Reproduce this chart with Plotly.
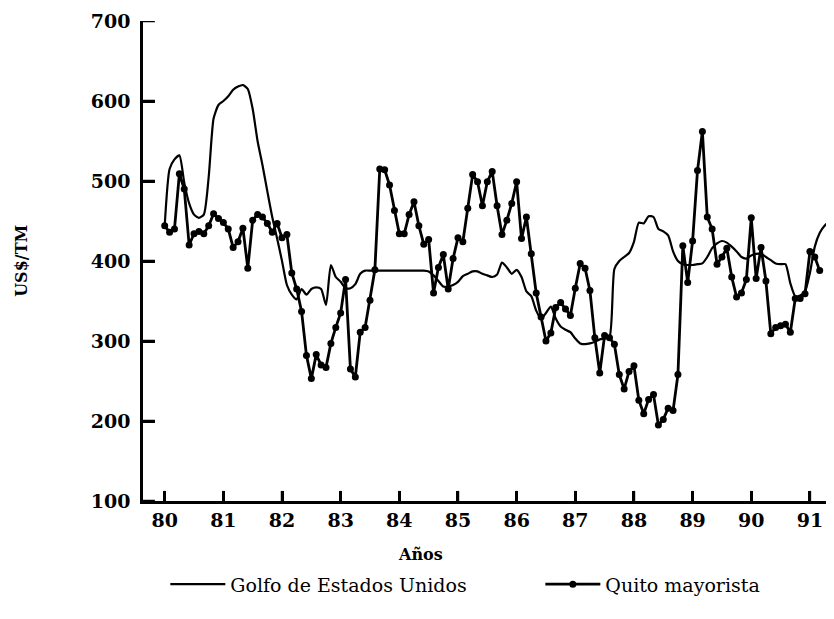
import plotly.graph_objects as go

# ---- data (monthly, starting January 1980) ----
start_year = 80
golfo = [444, 515, 527, 532, 498, 472, 458, 454, 458, 505,
         578, 595, 600, 606, 614, 618, 620, 615, 590, 550,
         520, 487, 455, 428, 400, 370, 358, 352, 365, 358,
         365, 367, 365, 345, 395, 380, 374, 366, 366, 371,
         384, 388, 388, 388, 388, 388, 388, 388, 388, 388,
         388, 388, 388, 388, 387, 382, 375, 368, 368, 370,
         374, 381, 384, 387, 387, 384, 382, 380, 383, 398,
         392, 384, 389, 380, 362, 356, 338, 328, 335, 343,
         328, 318, 314, 311, 303, 297, 296, 297, 299, 302,
         303, 305, 390, 400, 405, 410, 424, 448, 447, 456,
         455, 440, 437, 432, 412, 400, 396, 395, 395, 396,
         397, 405, 416, 422, 425, 423, 418, 412, 405, 403,
         407, 409, 409, 405, 401, 397, 396, 396, 372, 356,
         357, 362, 385, 418, 435, 444, 449, 446, 436]

quito = [444, 436, 440, 509, 490, 420, 434, 437, 434, 444,
         459, 453, 448, 440, 417, 424, 441, 391, 451, 458,
         455, 447, 436, 447, 429, 433, 385, 365, 337, 282,
         253, 283, 270, 267, 297, 317, 335, 377, 265, 255,
         311, 317, 351, 389, 515, 514, 495, 463, 434, 434,
         458, 474, 444, 421, 427, 360, 392, 408, 365, 403,
         429, 424, 466, 508, 499, 469, 499, 512, 469, 433,
         451, 472, 499, 428, 455, 409, 360, 330, 300, 310,
         342, 348, 340, 332, 366, 397, 391, 363, 304, 260,
         307, 304, 296, 258, 240, 262, 269, 226, 209, 227,
         233, 195, 202, 216, 213, 258, 419, 373, 425, 513,
         562, 455, 440, 396, 405, 416, 380, 355, 360, 377,
         454, 378, 417, 375, 309, 317, 319, 321, 311, 353,
         353, 359, 412, 405, 388]

x_ticks = list(range(80, 92))
x_tick_labels = [str(v) for v in x_ticks]
y_ticks = [100, 200, 300, 400, 500, 600, 700]
y_tick_labels = [str(v) for v in y_ticks]

x_golfo = [start_year + i / 12 for i in range(len(golfo))]
x_quito = [start_year + i / 12 for i in range(len(quito))]

FONT = "DejaVu Serif"
X_RANGE = [79.63, 91.53]

fig = go.Figure()
fig.add_trace(go.Scatter(
    x=x_golfo, y=golfo, mode="lines", name="Golfo de Estados Unidos",
    line=dict(color="black", width=2.2, shape="spline", smoothing=0.6),
    legendwidth=305,
))
fig.add_trace(go.Scatter(
    x=x_quito, y=quito, mode="lines+markers", name="Quito mayorista",
    line=dict(color="black", width=2.8),
    marker=dict(size=7, color="black"),
))

# inward tick marks, placed at the axis tick values
tick_shapes = []
for t in x_ticks:
    tick_shapes.append(dict(type="line", xref="x", yref="paper", x0=t, x1=t,
                            y0=0, y1=0.021, layer="above",
                            line=dict(color="black", width=2.5)))
for t in y_ticks:
    tick_shapes.append(dict(type="line", xref="paper", yref="y", x0=0, x1=0.017,
                            y0=t, y1=t, layer="above",
                            line=dict(color="black", width=2.5)))

fig.update_layout(
    template="none",
    width=834, height=619,
    margin=dict(l=135, r=1, t=13, b=126, autoexpand=False),
    paper_bgcolor="white", plot_bgcolor="white",
    showlegend=True,
    legend=dict(orientation="h", x=0.032, xanchor="left", y=-0.1735,
                yanchor="middle", itemwidth=55, bgcolor="rgba(0,0,0,0)",
                font=dict(family=FONT, size=19, color="black")),
    xaxis=dict(range=X_RANGE, tickvals=x_ticks, ticktext=x_tick_labels,
               ticks="inside", ticklen=10, tickwidth=2.5, tickcolor="black",
               showline=True, linewidth=2.5, linecolor="black",
               showgrid=False, zeroline=False, automargin=False,
               tickfont=dict(family=FONT, size=19, color="black", weight="bold")),
    yaxis=dict(range=[100, 700], tickvals=y_ticks, ticktext=y_tick_labels,
               ticks="inside", ticklen=12, tickwidth=2.5, tickcolor="black",
               showline=True, linewidth=2.5, linecolor="black",
               showgrid=False, zeroline=False, automargin=False,
               ticklabelstandoff=6,
               tickfont=dict(family=FONT, size=19, color="black", weight="bold")),
    shapes=tick_shapes,
    annotations=[
        dict(text="Años", xref="paper", yref="paper", x=0.397, y=-0.112,
             showarrow=False, xanchor="center", yanchor="middle",
             font=dict(family=FONT, size=16, color="black", weight="bold")),
        dict(text="US$/TM", xref="paper", yref="paper", x=-0.175, y=0.5,
             textangle=-90, showarrow=False, xanchor="center", yanchor="middle",
             font=dict(family=FONT, size=16, color="black", weight="bold")),
    ],
)

fig.write_html("out.html")
